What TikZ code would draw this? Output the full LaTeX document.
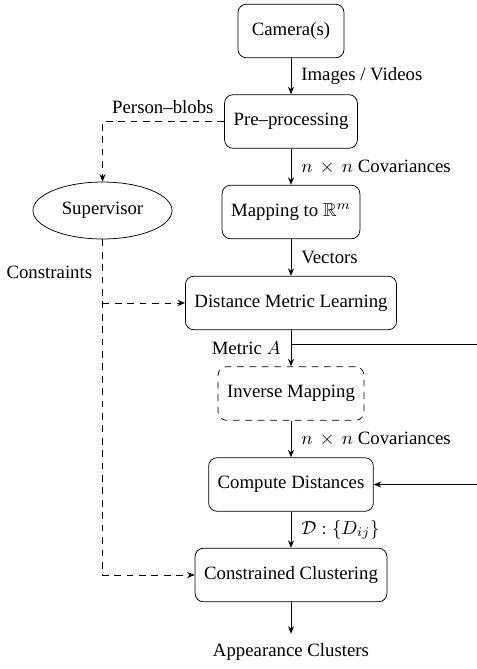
\documentclass[tikz,border=0pt]{standalone}
\usepackage{amssymb}
\usepackage{fontspec}
\setmainfont{Liberation Serif}
\usetikzlibrary{shapes.geometric,arrows.meta}
\begin{document}
\begin{tikzpicture}[x=0.532pt,y=-0.532pt, font=\fontsize{10}{12}\selectfont,
  box/.style={draw, rounded corners=4.5pt, minimum height=28.5pt, inner xsep=4.8pt},
  arr/.style={-{Stealth[length=4pt,width=3.2pt]}},
  lblr/.style={right, inner sep=0pt, xshift=5.3pt},
  lbll/.style={left, inner sep=0pt, xshift=-5.3pt},
  dashline/.style={dash pattern=on 3.6pt off 3pt}]
\useasboundingbox (0,0) rectangle (477,669);
\node[box, minimum width=56.4pt] (cam) at (291,31) {Camera(s)};
\node[box] (pre) at (291,121.5) {Pre--processing};
\node[box] (map) at (291,212) {Mapping to $\mathbb{R}^m$};
\node[draw, ellipse, minimum width=74pt, minimum height=30.3pt, inner sep=0pt] (sup) at (102.5,210.5) {Supervisor};
\node[box] (dml) at (291,303) {Distance Metric Learning};
\node[box, dashline] (inv) at (291,393.5) {Inverse Mapping};
\node[box] (cd) at (291,484.5) {Compute Distances};
\node[box] (cc) at (291,575) {Constrained Clustering};
\node[inner ysep=5pt] (out) at (291,652) {Appearance Clusters};
\coordinate (edge) at (495,0);

\draw[arr] (cam) -- node[lblr] {Images / Videos} (pre);
\draw[arr] (pre) -- node[lblr] {$n\,\times\,n$ Covariances} (map);
\draw[arr] (map) -- node[lblr] {Vectors} (dml);
\draw[arr] (dml) -- coordinate[pos=0.4] (mA) node[lbll] {Metric $A$} (inv);
\draw[arr] (inv) -- node[lblr] {$n\,\times\,n$ Covariances} (cd);
\draw[arr] (cd) -- node[lblr] {$\mathcal{D}:\{D_{ij}\}$} (cc);
\draw[arr] (cc) -- (out);

\begin{scope}
\clip (0,0) rectangle (477,669);
\draw[arr] (mA) -- (mA -| edge) |- (cd.east);
\end{scope}

\draw[dashline, arr] (pre.west) -| node[pos=0.252, yshift=7.7pt] {Person--blobs} (sup.north);
\draw[dashline, arr] (sup.south) |- node[pos=0.049, lbll] {Constraints} (cc.west);
\draw[dashline, arr] (sup.south |- dml.west) -- (dml.west);
\end{tikzpicture}
\end{document}
